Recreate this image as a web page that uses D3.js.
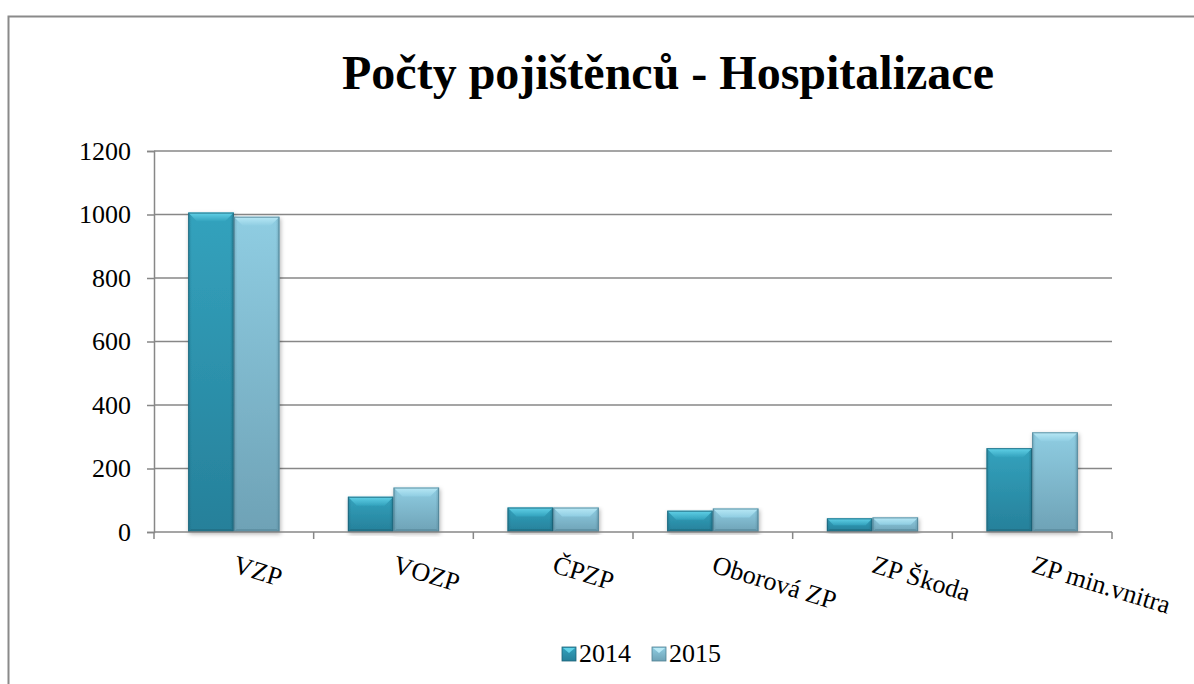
<!DOCTYPE html>
<html>
<head>
<meta charset="utf-8">
<script src="https://cdn.jsdelivr.net/npm/d3@7"></script>
<style>
  body { margin: 0; background: #fff; }
  svg { display: block; }
</style>
</head>
<body>
<svg width="1194" height="684"></svg>
<script>
const categories = ["VZP", "VOZP", "ČPZP", "Oborová ZP", "ZP Škoda", "ZP min.vnitra"];
const series = ["2014", "2015"];
const values2014 = [1006, 111, 77, 67, 43, 264];
const values2015 = [993, 140, 77, 74, 46, 314];
const yTicks = [0, 200, 400, 600, 800, 1000, 1200];

const svg = d3.select('svg');
const width = +svg.attr('width');
const height = +svg.attr('height');
const serif = 'Liberation Serif';

const margin = { top: 151, right: 82, bottom: 152, left: 154 };
const innerWidth = width - margin.left - margin.right;
const innerHeight = height - margin.top - margin.bottom;

const palette = {
  "2014": { bevel: "#62d2e8", top: "#33a2bd", bottom: "#26809a", edge: "#1d6378" },
  "2015": { bevel: "#b9e9f6", top: "#8fcde2", bottom: "#6ea2b6", edge: "#4f7f92" }
};

// chart frame (runs off the right and bottom edges)
svg.append('path')
  .attr('d', `M8.5,${height}V16.5H${width}`)
  .attr('fill', 'none')
  .attr('stroke', '#8a8a8a')
  .attr('stroke-width', 2);

// gradients
const defs = svg.append('defs');
series.forEach(s => {
  const c = palette[s];
  const lg = defs.append('linearGradient')
    .attr('id', 'body' + s).attr('x1', 0).attr('y1', 0).attr('x2', 0).attr('y2', 1);
  lg.append('stop').attr('offset', '0%').attr('stop-color', c.top);
  lg.append('stop').attr('offset', '100%').attr('stop-color', c.bottom);
  const side = defs.append('linearGradient')
    .attr('id', 'side' + s).attr('x1', 0).attr('y1', 0).attr('x2', 1).attr('y2', 0);
  side.append('stop').attr('offset', '0%').attr('stop-color', c.edge).attr('stop-opacity', 0.35);
  side.append('stop').attr('offset', '8%').attr('stop-color', c.edge).attr('stop-opacity', 0);
  side.append('stop').attr('offset', '92%').attr('stop-color', c.edge).attr('stop-opacity', 0);
  side.append('stop').attr('offset', '100%').attr('stop-color', c.edge).attr('stop-opacity', 0.45);
  const bv = defs.append('linearGradient')
    .attr('id', 'bevel' + s).attr('x1', 0).attr('y1', 0).attr('x2', 0).attr('y2', 1);
  bv.append('stop').attr('offset', '0%').attr('stop-color', c.bevel);
  bv.append('stop').attr('offset', '100%').attr('stop-color', c.top);
});
const shadow = defs.append('filter').attr('id', 'shadow')
  .attr('x', '-20%').attr('y', '-5%').attr('width', '140%').attr('height', '115%');
shadow.append('feDropShadow')
  .attr('dx', 1).attr('dy', 2).attr('stdDeviation', 2)
  .attr('flood-color', '#000').attr('flood-opacity', 0.3);

const g = svg.append('g')
  .attr('transform', `translate(${margin.left}, ${margin.top})`);

const xScale = d3.scaleBand()
  .domain(categories)
  .range([0, innerWidth]);

const yScale = d3.scaleLinear()
  .domain([0, 1200])
  .range([innerHeight, 0]);

// gap width 150% -> band = 2 bars + 1.5 bars
const barWidth = xScale.bandwidth() / 3.5;
const xSub = d3.scaleBand()
  .domain(series)
  .range([xScale.bandwidth() / 2 - barWidth, xScale.bandwidth() / 2 + barWidth]);

// gridlines
g.selectAll('.grid').data(yTicks.filter(d => d > 0))
  .enter().append('line')
    .attr('class', 'grid')
    .attr('x1', 0).attr('x2', innerWidth)
    .attr('y1', d => yScale(d)).attr('y2', d => yScale(d))
    .attr('stroke', '#878787')
    .attr('stroke-width', 1.5);

// y axis
const yAxis = d3.axisLeft(yScale)
  .tickValues(yTicks)
  .tickFormat(d3.format('d'))
  .tickSize(7)
  .tickPadding(16);
const yAxisG = g.append('g')
  .call(yAxis)
  .attr('font-family', null)
  .attr('font-size', null);
yAxisG.selectAll('.domain, line').attr('stroke', '#878787').attr('stroke-width', 1.5);
yAxisG.selectAll('text')
  .style('font-family', serif)
  .style('font-size', '26px')
  .attr('fill', '#000');

// bars
const rows = categories.map((c, i) => ({ cat: c, vals: [
  { s: "2014", v: values2014[i] },
  { s: "2015", v: values2015[i] }
]}));

const groups = g.selectAll('.grp').data(rows)
  .enter().append('g')
    .attr('class', 'grp')
    .attr('transform', d => `translate(${xScale(d.cat)}, 0)`);

const bars = groups.selectAll('.bar').data(d => d.vals)
  .enter().append('g')
    .attr('class', 'bar')
    .attr('filter', 'url(#shadow)');

bars.append('rect')
  .attr('x', d => xSub(d.s))
  .attr('y', d => yScale(d.v))
  .attr('width', xSub.bandwidth())
  .attr('height', d => innerHeight - yScale(d.v))
  .attr('fill', d => `url(#body${d.s})`);

bars.append('rect')
  .attr('x', d => xSub(d.s))
  .attr('y', d => yScale(d.v))
  .attr('width', xSub.bandwidth())
  .attr('height', d => innerHeight - yScale(d.v))
  .attr('fill', d => `url(#side${d.s})`);

// top bevel
const bevel = 9;
bars.append('path')
  .attr('d', d => {
    const x0 = xSub(d.s), x1 = x0 + xSub.bandwidth(), y0 = yScale(d.v);
    const b = Math.min(bevel, (innerHeight - y0) / 2);
    return `M${x0},${y0}L${x1},${y0}L${x1 - b},${y0 + b}L${x0 + b},${y0 + b}Z`;
  })
  .attr('fill', d => `url(#bevel${d.s})`);

// bottom bevel shade
bars.append('path')
  .attr('d', d => {
    const x0 = xSub(d.s), x1 = x0 + xSub.bandwidth(), y1 = innerHeight;
    const b = 3;
    return `M${x0},${y1}L${x1},${y1}L${x1 - b},${y1 - b}L${x0 + b},${y1 - b}Z`;
  })
  .attr('fill', d => palette[d.s].edge)
  .attr('opacity', 0.5);

bars.append('rect')
  .attr('x', d => xSub(d.s) + 0.5)
  .attr('y', d => yScale(d.v) + 0.5)
  .attr('width', xSub.bandwidth() - 1)
  .attr('height', d => innerHeight - yScale(d.v) - 1)
  .attr('fill', 'none')
  .attr('stroke', d => palette[d.s].edge)
  .attr('stroke-opacity', 0.8)
  .attr('stroke-width', 1);

// x axis
const xAxisG = g.append('g').attr('transform', `translate(0, ${innerHeight})`);
xAxisG.append('line')
  .attr('x1', 0).attr('x2', innerWidth)
  .attr('stroke', '#878787').attr('stroke-width', 1.5);
const boundaries = categories.map(c => xScale(c)).concat([innerWidth]);
xAxisG.selectAll('.xtick').data(boundaries)
  .enter().append('line')
    .attr('class', 'xtick')
    .attr('x1', d => d).attr('x2', d => d)
    .attr('y1', 0).attr('y2', 7)
    .attr('stroke', '#878787').attr('stroke-width', 1.5);

xAxisG.selectAll('.xlabel').data(categories)
  .enter().append('text')
    .attr('class', 'xlabel')
    .attr('transform', d => `translate(${xScale(d) + xScale.bandwidth() / 2 - 2}, 40) rotate(17)`)
    .style('font-family', serif)
    .style('font-size', '26px')
    .attr('fill', '#000')
    .text(d => d);

// title
svg.append('text')
  .attr('x', 668)
  .attr('y', 89)
  .attr('text-anchor', 'middle')
  .style('font-family', serif)
  .style('font-size', '48px')
  .style('font-weight', 'bold')
  .attr('fill', '#000')
  .text('Počty pojištěnců - Hospitalizace');

// legend
const legend = svg.append('g').attr('transform', 'translate(562, 647)');
const legendItems = legend.selectAll('.li').data(series)
  .enter().append('g')
    .attr('class', 'li')
    .attr('transform', (d, i) => `translate(${i * 90}, 0)`);
legendItems.append('rect')
  .attr('width', 14).attr('height', 14)
  .attr('fill', d => `url(#body${d})`)
  .attr('stroke', d => palette[d].edge)
  .attr('stroke-width', 0.8);
legendItems.append('path')
  .attr('d', 'M1,1L13,1L7,6Z')
  .attr('fill', d => palette[d].bevel);
legendItems.append('text')
  .attr('x', 17)
  .attr('y', 15)
  .style('font-family', serif)
  .style('font-size', '26px')
  .attr('fill', '#000')
  .text(d => d);
</script>
</body>
</html>
